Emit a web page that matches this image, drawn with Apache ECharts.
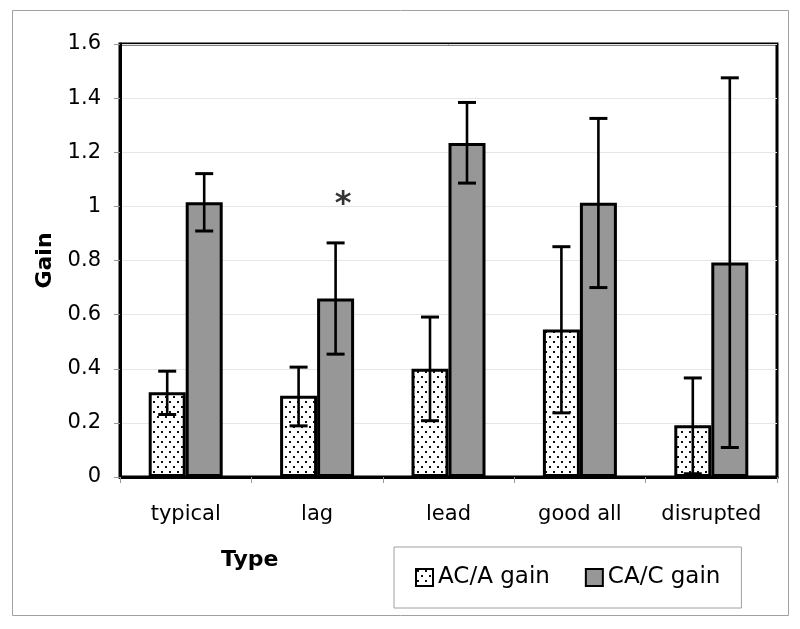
<!DOCTYPE html>
<html>
<head>
<meta charset="utf-8">
<script src="https://cdn.jsdelivr.net/npm/echarts@6/dist/echarts.min.js"></script>
<style>
html,body{margin:0;padding:0;background:#fff;}
#chart{width:800px;height:629px;}
</style>
</head>
<body>
<div id="chart"></div>
<script>
// ---- data ----
const categories = ['typical', 'lag', 'lead', 'good all', 'disrupted'];
const acaGain = [0.313, 0.300, 0.400, 0.545, 0.191];
const acaLow  = [0.231, 0.189, 0.208, 0.237, 0.012];
const acaHigh = [0.391, 0.406, 0.591, 0.851, 0.366];
const cacGain = [1.015, 0.660, 1.234, 1.013, 0.793];
const cacLow  = [0.909, 0.454, 1.086, 0.700, 0.109];
const cacHigh = [1.121, 0.865, 1.384, 1.325, 1.475];
const sigCategories = ['lag'];
const sigValues = [1.03];
const yMin = 0, yMax = 1.6, yStep = 0.2;
const seriesNames = ['AC/A gain', 'CA/C gain'];

// ---- styles ----
const FONT = 'DejaVu Sans';
const BAR_W = 37;

const pat = document.createElement('canvas');
pat.width = 8; pat.height = 10;
const pc = pat.getContext('2d');
pc.fillStyle = '#fff'; pc.fillRect(0, 0, 8, 10);
pc.fillStyle = '#111';
pc.fillRect(1, 1, 2, 2);
pc.fillRect(5, 6, 2, 2);

function errData(low, high) {
  return categories.map((c, i) => [i, low[i], high[i]]);
}
function errRender(sign) {
  return function (params, api) {
    const i = api.value(0);
    const lo = api.coord([i, api.value(1)]);
    const hi = api.coord([i, api.value(2)]);
    const x = lo[0] + sign * BAR_W / 2;
    const cap = 9;
    const st = { stroke: '#000', lineWidth: 2.6 };
    const cs = { stroke: '#000', lineWidth: 3 };
    return {
      type: 'group',
      children: [
        { type: 'line', shape: { x1: x, y1: lo[1], x2: x, y2: hi[1] }, style: st },
        { type: 'line', shape: { x1: x - cap, y1: lo[1], x2: x + cap, y2: lo[1] }, style: cs },
        { type: 'line', shape: { x1: x - cap, y1: hi[1], x2: x + cap, y2: hi[1] }, style: cs }
      ]
    };
  };
}

const chart = echarts.init(document.getElementById('chart'), null, { renderer: 'canvas' });
chart.setOption({
  animation: false,
  backgroundColor: '#fff',
  textStyle: { fontFamily: FONT },
  graphic: [
    { type: 'rect', shape: { x: 12.5, y: 10.5, width: 776, height: 605 },
      style: { fill: 'none', stroke: '#a0a0a0', lineWidth: 1 }, z: -10 },
    { type: 'text', left: 221, top: 549,
      style: { text: 'Type', font: 'bold 22px "DejaVu Sans"', fill: '#000' } }
  ],
  grid: {
    left: 120, right: 23, top: 44, bottom: 152,
    show: true, borderColor: '#000', borderWidth: 3, backgroundColor: '#fff'
  },
  legend: {
    data: [{ name: seriesNames[0], icon: 'rect' }, { name: seriesNames[1], icon: 'rect' }],
    left: 394, top: 547,
    padding: [19, 21],
    itemWidth: 17, itemHeight: 17,
    itemGap: 35,
    itemTextGap: 4,
    borderColor: '#a0a0a0', borderWidth: 1,
    textStyle: { fontSize: 23, color: '#000', fontFamily: FONT }
  },
  xAxis: {
    type: 'category',
    data: categories,
    axisLine: { show: true, lineStyle: { color: '#000', width: 3 } },
    axisTick: { show: true, length: 6, lineStyle: { color: '#999', width: 1 } },
    axisLabel: { color: '#000', fontSize: 21, fontFamily: FONT, margin: 27 },
    splitLine: { show: false }
  },
  yAxis: {
    type: 'value',
    min: yMin, max: yMax, interval: yStep,
    name: 'Gain',
    nameLocation: 'middle',
    nameGap: 62,
    nameRotate: 90,
    nameTextStyle: { fontSize: 22, fontWeight: 'bold', color: '#000', fontFamily: FONT },
    axisLine: { show: true, lineStyle: { color: '#000', width: 3 } },
    axisTick: { show: true, length: 6, lineStyle: { color: '#999', width: 1 } },
    axisLabel: { color: '#000', fontSize: 21, fontFamily: FONT, margin: 19 },
    splitLine: { show: true, lineStyle: { color: '#e6e6e6', width: 1 } }
  },
  series: [
    {
      name: seriesNames[0], type: 'bar', data: acaGain, barWidth: BAR_W, barGap: '0%',
      itemStyle: { color: { image: pat, repeat: 'repeat' }, borderColor: '#000', borderWidth: 3 },
      z: 2
    },
    {
      name: seriesNames[1], type: 'bar', data: cacGain, barWidth: BAR_W, barGap: '0%',
      itemStyle: { color: '#979797', borderColor: '#000', borderWidth: 3 },
      z: 2
    },
    {
      type: 'custom', name: 'errA', data: errData(acaLow, acaHigh),
      renderItem: errRender(-1), encode: { x: 0, y: [1, 2] }, z: 5, silent: true
    },
    {
      type: 'custom', name: 'errC', data: errData(cacLow, cacHigh),
      renderItem: errRender(1), encode: { x: 0, y: [1, 2] }, z: 5, silent: true
    },
    {
      type: 'scatter', name: 'sig',
      data: sigCategories.map((c, i) => [c, sigValues[i]]),
      symbolSize: 1, itemStyle: { color: 'rgba(0,0,0,0)' },
      label: {
        show: true, formatter: '*', position: 'inside', offset: [26, 6],
        fontSize: 32, fontWeight: 'bold', color: '#000', fontFamily: FONT
      },
      z: 6, silent: true
    }
  ]
});
</script>
</body>
</html>
